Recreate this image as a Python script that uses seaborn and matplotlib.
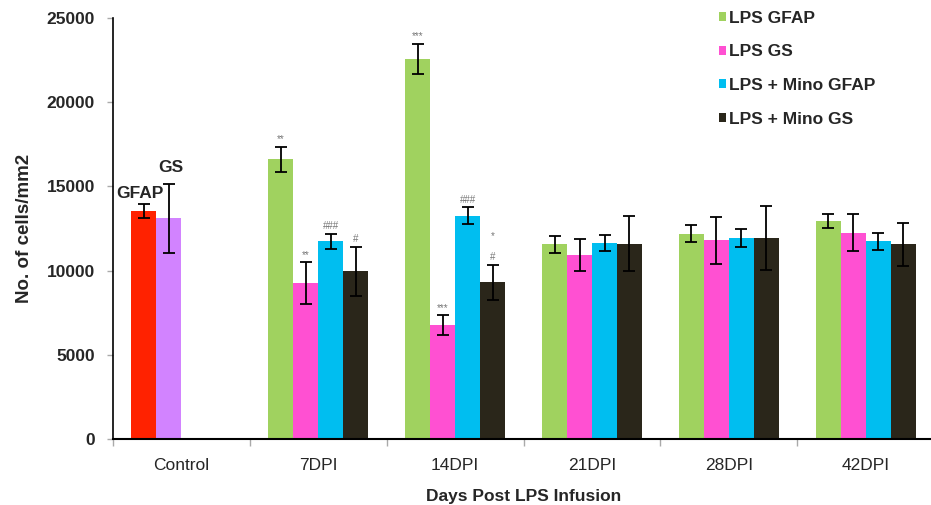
import matplotlib
matplotlib.use('Agg')
import matplotlib.pyplot as plt
import seaborn as sns
import pandas as pd
import numpy as np
from matplotlib.patches import Patch

# ---------- data ----------
days = ['Control', '7DPI', '14DPI', '21DPI', '28DPI', '42DPI']
series = ['LPS GFAP', 'LPS GS', 'LPS + Mino GFAP', 'LPS + Mino GS']

lps_gfap = [13550, 16600, 22550, 11550, 12200, 12950]
lps_gfap_err = [400, 750, 900, 480, 500, 400]
lps_gs = [13100, 9250, 6750, 10950, 11800, 12250]
lps_gs_err = [2050, 1250, 600, 950, 1400, 1100]
mino_gfap = [np.nan, 11750, 13250, 11650, 11950, 11750]
mino_gfap_err = [np.nan, 450, 500, 480, 530, 500]
mino_gs = [np.nan, 9950, 9300, 11600, 11950, 11550]
mino_gs_err = [np.nan, 1450, 1050, 1620, 1900, 1300]

# significance marks: (day index, series index, text)
sig_marks = [(1, 0, '**'), (1, 1, '**'), (1, 2, '###'), (1, 3, '#'),
             (2, 0, '***'), (2, 1, '***'), (2, 2, '###'), (2, 3, '#')]
extra_star = (2, 3, '*')

colors = ['#A0D25F', '#FF50D2', '#00BEF0', '#2A261A']
control_colors = ['#FF2200', '#D283FF']

values = [lps_gfap, lps_gs, mino_gfap, mino_gs]
errors = [lps_gfap_err, lps_gs_err, mino_gfap_err, mino_gs_err]

rows = []
for s, vals, errs in zip(series, values, errors):
    for d, v, e in zip(days, vals, errs):
        rows.append({'Day': d, 'Series': s, 'Cells': v, 'Err': e})
df = pd.DataFrame(rows).dropna()

# ---------- figure ----------
sns.set_style('white')
plt.rcParams['font.family'] = ['Liberation Sans', 'DejaVu Sans']

fig = plt.figure(figsize=(9.31, 5.05), dpi=100)
ax = fig.add_axes([0.1214, 0.1307, 0.882, 0.8337])

sns.barplot(data=df, x='Day', y='Cells', hue='Series', order=days,
            hue_order=series, palette=colors, width=0.73, saturation=1,
            errorbar=None, legend=False, ax=ax, linewidth=0)

# error bars + control colours
bar_conts = list(ax.containers)
tops = {}
for si, cont in enumerate(bar_conts):
    for bar in cont:
        h = bar.get_height()
        if np.isnan(h):
            continue
        cx = bar.get_x() + bar.get_width() / 2
        di = int(round(cx))
        err = errors[si][di]
        if di == 0:
            bar.set_facecolor(control_colors[si])
        ax.errorbar(cx, h, yerr=err, fmt='none', ecolor='black',
                    elinewidth=1.3, capsize=4.5, capthick=1.3, zorder=4)
        tops[(di, si)] = (cx, h + err)

for di, si, txt in sig_marks:
    cx, top = tops[(di, si)]
    ax.text(cx, top + 150, txt, ha='center', va='bottom', fontsize=7,
            color='#777777')
di, si, txt = extra_star
cx, top = tops[(di, si)]
ax.text(cx, top + 1400, txt, ha='center', va='bottom', fontsize=7,
        color='#777777')

ax.text(-0.30, 14550, 'GFAP', ha='center', va='center', fontsize=12.5,
        fontweight='bold')
ax.text(-0.08, 16150, 'GS', ha='center', va='center', fontsize=12.5,
        fontweight='bold')

# axes
ax.set_ylim(0, 25000)
ax.set_xlim(-0.5, 5.5)
ax.set_yticks(range(0, 25001, 5000))
ax.set_yticklabels([str(v) for v in range(0, 25001, 5000)],
                   fontsize=12.5, fontweight='bold')
ax.tick_params(axis='y', left=True, length=4, width=1, color='#aaaaaa',
               pad=9)

ax.set_xticks(np.arange(-0.5, 6, 1))
ax.set_xticklabels([])
ax.tick_params(axis='x', which='major', bottom=True, length=5,
               color='#aaaaaa', width=1)
ax.set_xticks(range(len(days)), minor=True)
ax.set_xticklabels(days, minor=True, fontsize=12.5)
ax.tick_params(axis='x', which='minor', bottom=True, length=0, pad=14)

ax.set_xlabel('Days Post LPS Infusion', fontsize=12.5, fontweight='bold')
ax.set_ylabel('No. of cells/mm2', fontsize=13.5, fontweight='bold')
ax.xaxis.set_label_coords(0.5, -0.118)
ax.yaxis.set_label_coords(-0.097, 0.5)

for side in ['top', 'right']:
    ax.spines[side].set_visible(False)
ax.spines['left'].set_color('black')
ax.spines['left'].set_linewidth(1.2)
ax.spines['bottom'].set_color('black')
ax.spines['bottom'].set_linewidth(1.5)

handles = [Patch(facecolor=c, edgecolor='none') for c in colors]
fig.legend(handles, series, loc='upper left',
           bbox_to_anchor=(710 / 931, 1 - 2 / 505), frameon=False,
           handlelength=0.42, handleheight=0.42,
           handletextpad=0.15, labelspacing=1.08, borderpad=0,
           prop={'weight': 'bold', 'size': 12.5})

fig.savefig('out.png', dpi=100)
